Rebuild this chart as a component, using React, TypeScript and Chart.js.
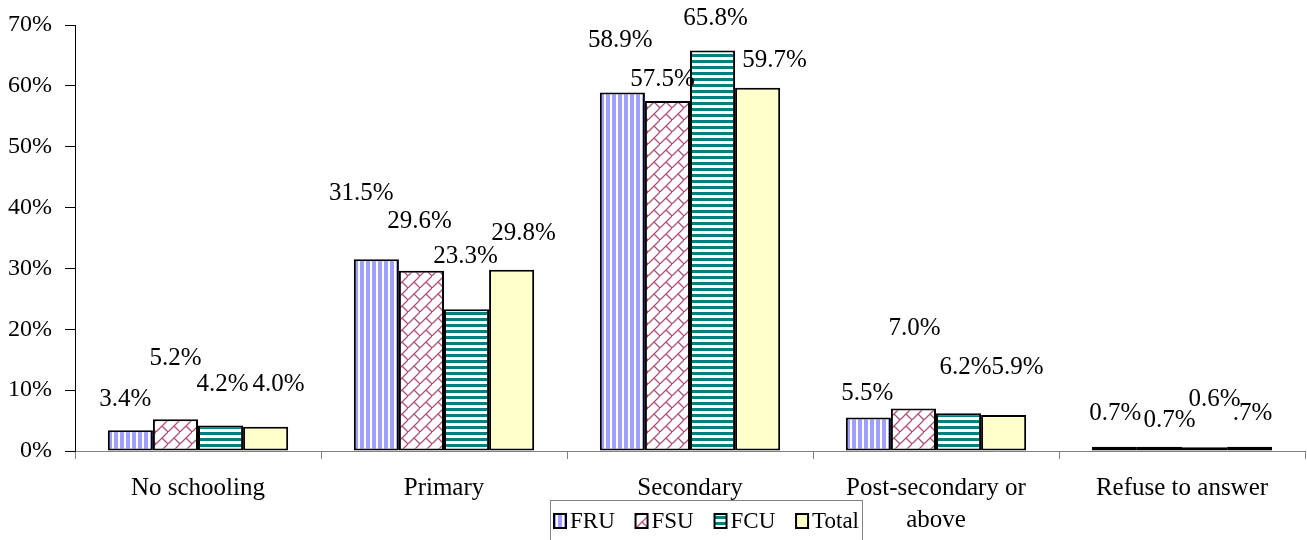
import React, { useEffect, useRef } from "react";
import { Chart, registerables } from "chart.js";

Chart.register(...registerables);

const categories: (string | string[])[] = [
  "No schooling",
  "Primary",
  "Secondary",
  ["Post-secondary or", "above"],
  "Refuse to answer",
];
const seriesNames = ["FRU", "FSU", "FCU", "Total"];

const fruValues = [3.4, 31.5, 58.9, 5.5, 0.7];
const fsuValues = [5.2, 29.6, 57.5, 7.0, 0.7];
const fcuValues = [4.2, 23.3, 65.8, 6.2, 0.6];
const totalValues = [4.0, 29.8, 59.7, 5.9, 0.7];

// label texts as printed in the figure
const fruLabels = ["3.4%", "31.5%", "58.9%", "5.5%", "0.7%"];
const fsuLabels = ["5.2%", "29.6%", "57.5%", "7.0%", "0.7%"];
const fcuLabels = ["4.2%", "23.3%", "65.8%", "6.2%", "0.6%"];
const totalLabels = ["4.0%", "29.8%", "59.7%", "5.9%", ".7%"];

// value level (in %) at which each data label sits
const fruLabelLevel = [8.4, 42.3, 67.4, 9.5, 6.1];
const fsuLabelLevel = [15.2, 37.7, 61.1, 20.2, 5.1];
const fcuLabelLevel = [11.0, 32.0, 71.0, 13.7, 8.4];
const totalLabelLevel = [11.0, 35.7, 64.1, 13.7, 6.1];

// horizontal nudge of each label (px)
const fruLabelShift = [-5, -15, -2, -1, 1];
const fsuLabelShift = [0, -2, -5, 1, 10];
const fcuLabelShift = [2, -1, 3, 7, 10];
const totalLabelShift = [13, 12, 17, 14, 3];

const yTicks = [0, 10, 20, 30, 40, 50, 60, 70];

const FONT = '"Liberation Serif", "Times New Roman", serif';

function makePattern(kind: string): CanvasPattern | string {
  const c = document.createElement("canvas");
  const ctx = c.getContext("2d")!;
  if (kind === "vstripe") {
    c.width = 6;
    c.height = 6;
    ctx.fillStyle = "#ffffff";
    ctx.fillRect(0, 0, 6, 6);
    ctx.fillStyle = "#9f9fff";
    ctx.fillRect(0, 0, 4, 6);
  } else if (kind === "hstripe") {
    c.width = 6;
    c.height = 6;
    ctx.fillStyle = "#ffffff";
    ctx.fillRect(0, 0, 6, 6);
    ctx.fillStyle = "#008080";
    ctx.fillRect(0, 0, 6, 3);
  } else if (kind === "brick") {
    const s = 12;
    c.width = s;
    c.height = s;
    ctx.fillStyle = "#ffffff";
    ctx.fillRect(0, 0, s, s);
    ctx.strokeStyle = "#b0507a";
    ctx.lineWidth = 1.3;
    ctx.beginPath();
    ctx.moveTo(-1, s + 1);
    ctx.lineTo(s + 1, -1);
    ctx.moveTo(s / 2, s / 2);
    ctx.lineTo(s, s);
    ctx.stroke();
  } else {
    return "#ffffcc";
  }
  return ctx.createPattern(c, "repeat")!;
}

export default function App() {
  const ref = useRef<HTMLCanvasElement>(null);

  useEffect(() => {
    if (!ref.current) return;
    const fills = [
      makePattern("vstripe"),
      makePattern("brick"),
      makePattern("hstripe"),
      makePattern("plain"),
    ];
    const values = [fruValues, fsuValues, fcuValues, totalValues];
    const labels = [fruLabels, fsuLabels, fcuLabels, totalLabels];
    const levels = [fruLabelLevel, fsuLabelLevel, fcuLabelLevel, totalLabelLevel];
    const shifts = [fruLabelShift, fsuLabelShift, fcuLabelShift, totalLabelShift];

    const labelPlugin = {
      id: "barLabels",
      afterDatasetsDraw(chart: any) {
        const ctx = chart.ctx;
        const yScale = chart.scales.y;
        ctx.save();
        ctx.font = `25px ${FONT}`;
        ctx.fillStyle = "#000";
        ctx.textAlign = "center";
        ctx.textBaseline = "middle";
        values.forEach((_, i) => {
          const meta = chart.getDatasetMeta(i);
          meta.data.forEach((bar: any, j: number) => {
            const x = bar.x + shifts[i][j];
            const y = yScale.getPixelForValue(levels[i][j]);
            ctx.fillText(labels[i][j], x, y);
          });
        });
        ctx.restore();
      },
    };

    const legendPlugin = {
      id: "boxLegend",
      afterDraw(chart: any) {
        const ctx = chart.ctx;
        const left = 550;
        const right = 863;
        const top = 500;
        ctx.save();
        ctx.fillStyle = "#ffffff";
        ctx.fillRect(left, top, right - left, 50);
        ctx.strokeStyle = "#808080";
        ctx.lineWidth = 1;
        ctx.strokeRect(left + 0.5, top + 0.5, right - left - 1, 60);
        ctx.font = `23px ${FONT}`;
        ctx.textBaseline = "middle";
        ctx.textAlign = "left";
        const sw = 12;
        const gapText = 4;
        const widths = seriesNames.map((n) => ctx.measureText(n).width);
        const inner = widths.reduce((a, b) => a + b, 0) + seriesNames.length * (sw + gapText);
        const gap = (right - left - 8 - inner) / (seriesNames.length - 1);
        let x = left + 4;
        const cy = top + 21;
        seriesNames.forEach((n, i) => {
          ctx.fillStyle = fills[i] as any;
          ctx.fillRect(x, cy - 7, sw, 14);
          ctx.strokeStyle = "#000";
          ctx.lineWidth = 2;
          ctx.strokeRect(x, cy - 7, sw, 14);
          ctx.fillStyle = "#000";
          ctx.fillText(n, x + sw + gapText, cy + 1);
          x += sw + gapText + widths[i] + gap;
        });
        ctx.restore();
      },
    };

    const chart = new Chart(ref.current, {
      type: "bar",
      data: {
        labels: categories as any,
        datasets: seriesNames.map((name, i) => ({
          label: name,
          data: values[i],
          backgroundColor: fills[i] as any,
          borderColor: "#000000",
          borderWidth: 2,
          borderSkipped: false,
          categoryPercentage: 0.733,
          barPercentage: 1,
        })),
      },
      options: {
        animation: false,
        responsive: true,
        maintainAspectRatio: false,
        layout: { padding: { top: 21, right: 2, left: 0, bottom: 0 } },
        plugins: {
          legend: { display: false },
          tooltip: { enabled: false },
        },
        scales: {
          x: {
            grid: {
              display: true,
              drawOnChartArea: false,
              drawTicks: true,
              tickLength: 8,
              color: "#808080",
              offset: true,
            },
            border: { color: "#808080", width: 1 },
            ticks: {
              color: "#000",
              font: { family: FONT, size: 25, lineHeight: 1.28 },
              padding: 13,
              maxRotation: 0,
              autoSkip: false,
            },
            afterFit(scale: any) {
              scale.height = 89;
            },
          },
          y: {
            min: 0,
            max: 70,
            afterBuildTicks(scale: any) {
              scale.ticks = yTicks.map((v) => ({ value: v }));
            },
            grid: {
              display: true,
              drawOnChartArea: false,
              drawTicks: true,
              tickLength: 10,
              color: "#000",
            },
            border: { color: "#000", width: 1 },
            ticks: {
              color: "#000",
              font: { family: FONT, size: 24, lineHeight: 1 },
              padding: 13,
              callback: (v: any) => `${v}%`,
            },
            afterFit(scale: any) {
              scale.width = 75;
            },
          },
        },
      },
      plugins: [labelPlugin, legendPlugin],
    });
    return () => chart.destroy();
  }, []);

  return (
    <div style={{ position: "fixed", left: 0, top: 0, width: 1307, height: 540, background: "#fff" }}>
      <canvas ref={ref} />
    </div>
  );
}
